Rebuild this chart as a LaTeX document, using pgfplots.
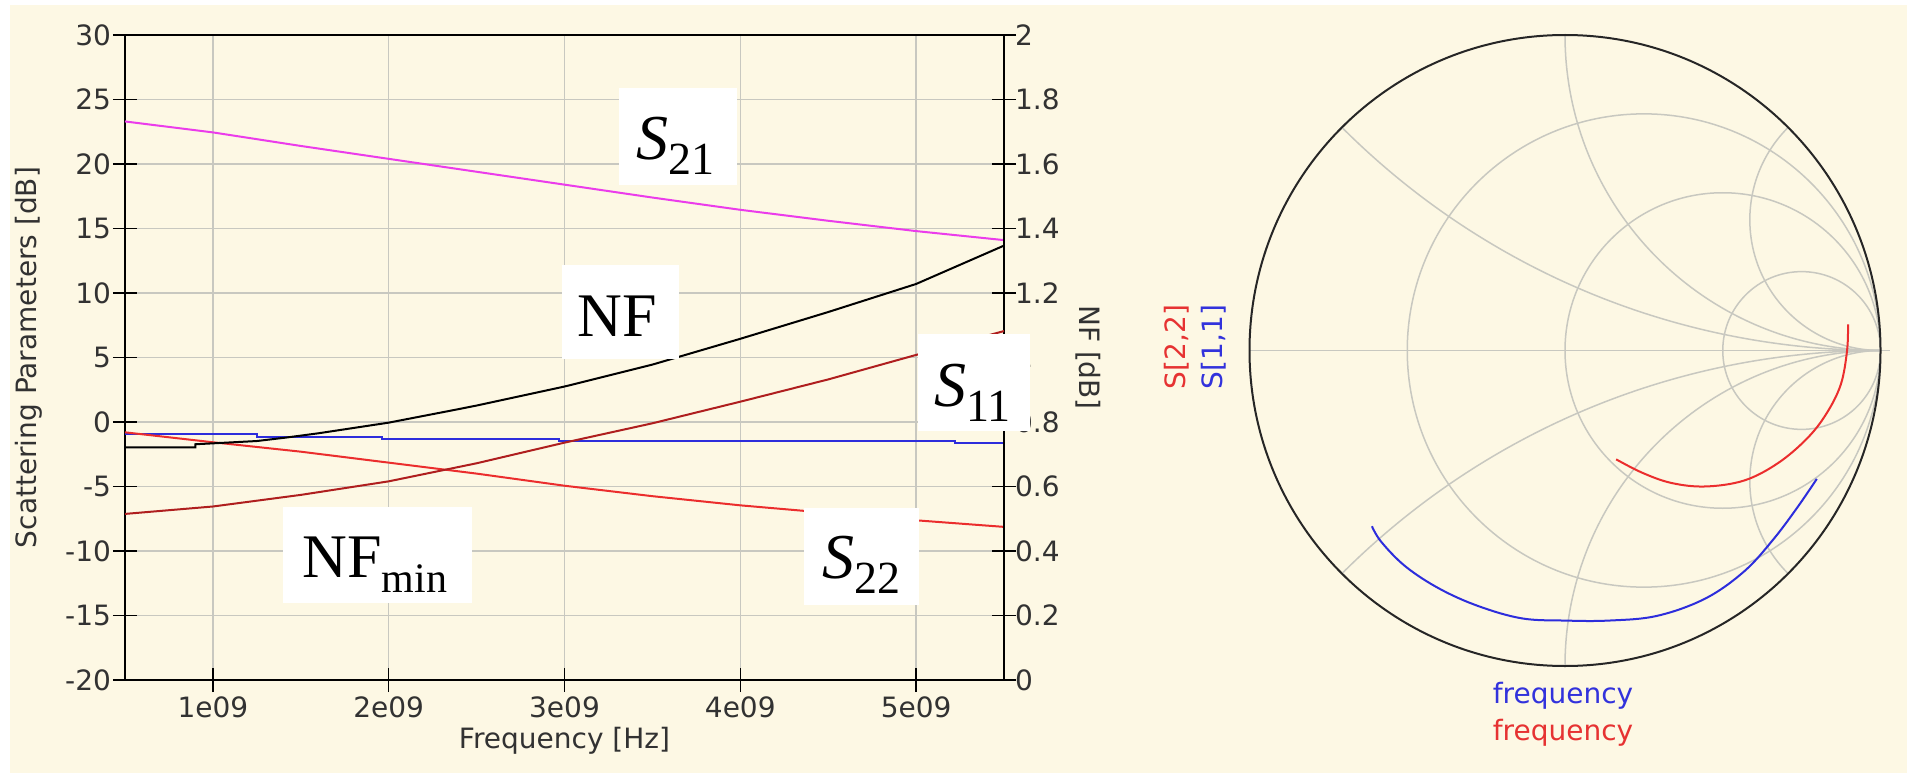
\documentclass[border=0pt]{standalone}
\usepackage{pgfplots}
\pgfplotsset{compat=1.18}
\usepackage{fontspec}
\setmainfont{DejaVu Sans}
\newfontfamily\tnr{Liberation Serif}
\definecolor{cream}{RGB}{253,248,228}
\definecolor{gridc}{RGB}{200,200,192}
\definecolor{tickgray}{RGB}{50,50,50}
\definecolor{cS21}{RGB}{235,60,235}
\definecolor{cS11}{RGB}{45,45,220}
\definecolor{cS22}{RGB}{235,45,45}
\definecolor{cNFmin}{RGB}{175,30,30}
\definecolor{lblred}{RGB}{230,50,50}
\definecolor{lblblue}{RGB}{50,50,220}
\newcommand{\tickfont}{\fontsize{14}{16.8}\selectfont}
\begin{document}
\begin{tikzpicture}
\useasboundingbox (0,0) rectangle (953.5pt,386.5pt);
\fill[white] (0,0) rectangle (953.5pt,386.5pt);
\fill[cream] (5pt,0) rectangle (953.5pt,384pt);

% ---------- left chart: S-parameters ----------
\begin{axis}[
  at={(62.5pt,46.5pt)}, anchor=south west,
  width=439.5pt, height=322.5pt, scale only axis,
  xmin=0.5, xmax=5.5, ymin=-20, ymax=30,
  xtick={1,2,3,4,5}, xticklabels={1e09,2e09,3e09,4e09,5e09},
  ytick={-20,-15,-10,-5,0,5,10,15,20,25,30},
  yticklabels={-20,-15,-10,-5,0,5,10,15,20,25,30},
  tick pos=left, tick align=center, major tick length=12pt,
  tick style={black, line width=0.75pt},
  axis line style={black, line width=1pt},
  grid=major, major grid style={gridc, line width=0.75pt},
  ticklabel style={font=\tickfont, text=tickgray},
  yticklabel style={xshift=2.5pt},
  xticklabel style={yshift=1pt},
  xlabel={Frequency [Hz]},
  ylabel={Scattering Parameters [dB]},
  every axis x label/.style={at={(rel axis cs:0.5,0)}, yshift=-30.5pt, anchor=center, font=\tickfont, text=tickgray},
  every axis y label/.style={at={(rel axis cs:0,0.5)}, xshift=-48pt, rotate=90, anchor=center, font=\tickfont, text=tickgray},
  clip=true,
]
\addplot[cS21, line width=1pt] coordinates {
(0.5,23.3) (1.0,22.45) (1.5,21.4) (2.0,20.4) (2.5,19.4) (3.0,18.4)
(3.5,17.4) (4.0,16.45) (4.5,15.6) (5.0,14.8) (5.5,14.1)};
\addplot[cS11, line width=1pt] coordinates {
(0.5,-0.95) (1.25,-0.95) (1.25,-1.13) (1.96,-1.13) (1.96,-1.31)
(2.97,-1.31) (2.97,-1.47) (5.22,-1.47) (5.22,-1.65) (5.5,-1.65)};
\addplot[cS22, line width=1pt] coordinates {
(0.5,-0.8) (1.0,-1.57) (1.5,-2.3) (2.0,-3.15) (2.5,-4.0) (3.0,-4.94)
(3.5,-5.75) (4.0,-6.46) (4.5,-7.05) (5.0,-7.62) (5.5,-8.13)};
\end{axis}

% ---------- right axis: NF ----------
\begin{axis}[
  at={(62.5pt,46.5pt)}, anchor=south west,
  width=439.5pt, height=322.5pt, scale only axis,
  xmin=0.5, xmax=5.5, ymin=0, ymax=2,
  axis x line=none, axis y line*=right,
  ytick={0,0.2,0.4,0.6,0.8,1,1.2,1.4,1.6,1.8,2},
  yticklabels={0,0.2,0.4,0.6,0.8,1,1.2,1.4,1.6,1.8,2},
  ytick pos=right, tick align=center, major tick length=12pt,
  tick style={black, line width=0.75pt},
  axis line style={black, line width=1pt},
  ticklabel style={font=\tickfont, text=tickgray},
  yticklabel style={xshift=-4pt},
  ylabel={NF [dB]},
  every axis y label/.style={at={(rel axis cs:1,0.5)}, xshift=42pt, rotate=-90, anchor=center, font=\tickfont, text=tickgray},
]
\addplot[black, line width=1pt] coordinates {
(0.5,0.721) (0.9,0.721) (0.9,0.731) (1.25,0.741) (1.42,0.752) (1.6,0.765)
(2.0,0.798) (2.37,0.837) (2.5,0.851) (3.0,0.910) (3.5,0.978) (4.0,1.058)
(4.5,1.141) (5.0,1.228) (5.5,1.347)};
\addplot[cNFmin, line width=1pt] coordinates {
(0.5,0.515) (1.0,0.538) (1.5,0.574) (2.0,0.616) (2.5,0.672) (3.0,0.736)
(3.5,0.796) (4.0,0.863) (4.5,0.932) (5.0,1.008) (5.5,1.082)};
\end{axis}

% ---------- Smith chart grid ----------
\begin{scope}[shift={(782.5pt,211.25pt)}, x=157.75pt, y=157.75pt]
  \begin{scope}
    \clip (0,0) circle [radius=1];
    \draw[gridc, line width=0.75pt] (0.25,0) circle [radius=0.75];
    \draw[gridc, line width=0.75pt] (0.5,0) circle [radius=0.5];
    \draw[gridc, line width=0.75pt] (0.75,0) circle [radius=0.25];
    \draw[gridc, line width=0.75pt] (1,2.41421) circle [radius=2.41421];
    \draw[gridc, line width=0.75pt] (1,-2.41421) circle [radius=2.41421];
    \draw[gridc, line width=0.75pt] (1,1) circle [radius=1];
    \draw[gridc, line width=0.75pt] (1,-1) circle [radius=1];
    \draw[gridc, line width=0.75pt] (1,0.41421) circle [radius=0.41421];
    \draw[gridc, line width=0.75pt] (1,-0.41421) circle [radius=0.41421];
  \end{scope}
  \draw[gridc, line width=0.75pt] (-1,0) -- (1.03,0);
  \draw[black!85, line width=1pt] (0,0) circle [radius=1];
\end{scope}

% ---------- Smith chart data ----------
\begin{axis}[
  at={(782.5pt,211.25pt)}, anchor=center,
  width=315.5pt, height=315.5pt, scale only axis,
  xmin=-1, xmax=1, ymin=-1, ymax=1, hide axis, clip=false,
]
\addplot[cS22, line width=1pt, smooth, tension=0.6] coordinates {
(0.897,0.083) (0.894,0.0) (0.874,-0.108) (0.828,-0.201) (0.767,-0.279)
(0.675,-0.357) (0.568,-0.412) (0.445,-0.431) (0.338,-0.420) (0.246,-0.388)
(0.162,-0.345)};
\addplot[cS11, line width=1pt, smooth, tension=0.6] coordinates {
(0.798,-0.407) (0.736,-0.498) (0.660,-0.599) (0.568,-0.700) (0.445,-0.786)
(0.292,-0.841) (0.139,-0.856) (0.0,-0.856) (-0.137,-0.849) (-0.275,-0.810)
(-0.398,-0.755) (-0.505,-0.685) (-0.582,-0.607) (-0.612,-0.557)};
\end{axis}

\node[rotate=90, anchor=center, text=lblred, font=\tickfont] at (588.5pt,213pt) {S[2,2]};
\node[rotate=90, anchor=center, text=lblblue, font=\tickfont] at (607pt,213pt) {S[1,1]};
\node[anchor=base, text=lblblue, font=\tickfont, inner sep=0] at (781.5pt,35pt) {frequency};
\node[anchor=base, text=lblred, font=\tickfont, inner sep=0] at (781.5pt,16.5pt) {frequency};

% ---------- annotation boxes ----------
\fill[white] (309.5pt,294pt) rectangle (368.5pt,342.5pt);
\node[anchor=base west, inner sep=0] at (318pt,306.5pt)
  {\tnr\fontsize{32}{32}\selectfont\textit{S}\raisebox{-7.5pt}{\fontsize{23}{23}\selectfont 21}};
\fill[white] (281pt,207pt) rectangle (339.5pt,254pt);
\node[anchor=base west, inner sep=0] at (288.5pt,218.5pt)
  {\tnr\fontsize{31}{31}\selectfont NF};
\fill[white] (458.9pt,171pt) rectangle (515pt,219.4pt);
\node[anchor=base west, inner sep=0] at (467pt,183.5pt)
  {\tnr\fontsize{32}{32}\selectfont\textit{S}\raisebox{-7.5pt}{\fontsize{23}{23}\selectfont 11}};
\fill[white] (141.7pt,84.9pt) rectangle (235.9pt,133.2pt);
\node[anchor=base west, inner sep=0] at (151pt,97.6pt)
  {\tnr\fontsize{31}{31}\selectfont NF\raisebox{-7.5pt}{\fontsize{21}{21}\selectfont min}};
\fill[white] (402.2pt,84pt) rectangle (459.5pt,132.4pt);
\node[anchor=base west, inner sep=0] at (411pt,97.3pt)
  {\tnr\fontsize{32}{32}\selectfont\textit{S}\raisebox{-7.5pt}{\fontsize{23}{23}\selectfont 22}};
\end{tikzpicture}
\end{document}
